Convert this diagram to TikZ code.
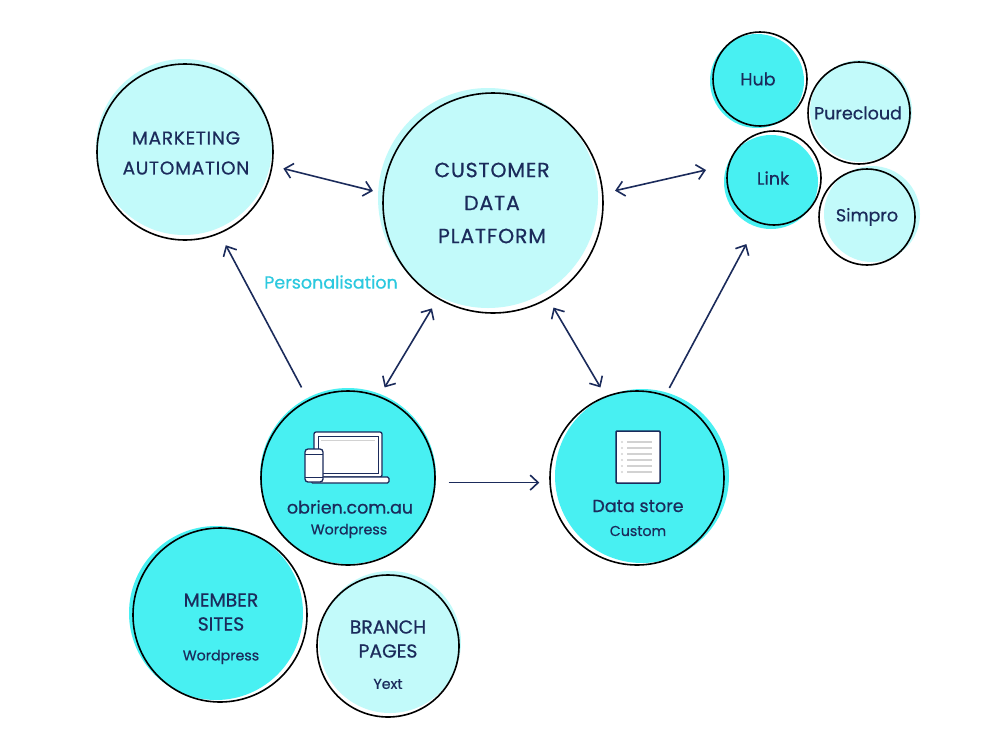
\documentclass[tikz,border=0pt]{standalone}
\usepackage{fontspec}
\setmainfont{Poppins}[FakeBold=0.6]
\newfontfamily\capsfont{Poppins}[LetterSpace=4,FakeBold=0.6]
\usetikzlibrary{arrows.meta,calc}
\definecolor{navy}{HTML}{1B2B5B}
\definecolor{bright}{HTML}{48F0F2}
\definecolor{light}{HTML}{C2FAFA}
\definecolor{pers}{HTML}{2CC9DF}
\begin{document}
\begin{tikzpicture}[x=1pt,y=-1pt,
  ring/.style={circle,draw=black,line width=1.6pt,inner sep=0pt,minimum size=#1},
  conn/.style={draw=navy,line width=1.6pt},
  >={Straight Barb[length=8pt,width=15pt]},
  txt/.style={text=navy,align=center,inner sep=0pt},
  bigcaps/.style={txt,font=\capsfont\fontsize{20.5}{33}\selectfont},
  macaps/.style={txt,font=\capsfont\fontsize{18.5}{30}\selectfont},
  caps/.style={txt,font=\fontsize{18.8}{24}\selectfont},
  main/.style={txt,font=\fontsize{17.5}{20}\selectfont},
  sub/.style={txt,font=\fontsize{14.2}{16}\selectfont},
  icon/.style={draw=navy,line width=1.3pt,fill=white}]
\fill[white] (0,0) rectangle (1000,750);
\useasboundingbox (0,0) rectangle (1000,750);

% fills
\fill[light]  (184,147) circle (88pt);
\fill[light]  (488,198) circle (110pt);
\fill[bright] (348,476) circle (88pt);
\fill[bright] (642,476) circle (87pt);
\fill[bright] (757,81) circle (47pt);
\fill[light]  (861,111) circle (51pt);
\fill[bright] (771,182) circle (47pt);
\fill[light]  (872,214) circle (48pt);
\fill[bright] (216,613) circle (87pt);
\fill[light]  (390,642) circle (71pt);

% rings
\node[ring=176pt] (ma)  at (185,152) {};
\node[ring=220pt] (cdp) at (493,203) {};
\node[ring=174pt] (ob)  at (348,478) {};
\node[ring=174pt] (ds)  at (637,478) {};
\node[ring=94pt]  (hub) at (760,79) {};
\node[ring=102pt] (pc)  at (859,113) {};
\node[ring=94pt]  (lnk) at (774,178) {};
\node[ring=96pt]  (sp)  at (867,217) {};
\node[ring=174pt] (ms)  at (220,615) {};
\node[ring=142pt] (bp)  at (388,646) {};

% texts
\node[macaps]  (matxt)  at (186,153) {MARKETING\\AUTOMATION};
\node[bigcaps] (cdptxt) at (492,203) {CUSTOMER\\DATA\\PLATFORM};
\node[main] (obtxt) at (350,507) {obrien.com.au};
\node[sub]  (obsub) at (349,531) {Wordpress};
\node[main] (dstxt) at (638,506) {Data store};
\node[sub]  (dssub) at (638,531) {Custom};
\node[main] (hubtxt) at (758,79) {Hub};
\node[main] (pctxt)  at (858,113) {Purecloud};
\node[main] (lnktxt) at (773,178) {Link};
\node[main] (sptxt)  at (867,217) {Simpro};
\node[caps] (mstxt) at (221,612) {MEMBER\\SITES};
\node[sub]  (mssub) at (221,657) {Wordpress};
\node[caps] (bptxt) at (388,639) {BRANCH\\PAGES};
\node[sub]  (bpsub) at (388,684) {Yext};
\node[txt,text=pers,font=\fontsize{17.5}{20}\selectfont] (perslbl) at (331,282) {Personalisation};

% laptop + phone icon
\draw[icon,rounded corners=2pt] (314,432) rectangle (382,477);
\draw[navy,line width=0.7pt] (318,436) rectangle (378,473);
\draw[gray!35,line width=1pt] (321,440) -- (375,440);
\draw[icon,rounded corners=1.5pt] (311,477) rectangle (389,483);
\draw[icon,rounded corners=3pt] (305,449) rectangle (323,482);
\draw[navy,line width=1pt] (305,454) -- (323,454) (305,477) -- (323,477);

% document icon
\draw[icon,line width=1.5pt,rounded corners=1pt] (616,431) rectangle (660,483);
\foreach \yy in {442,448,454,460,466,472}{
  \draw[gray!35,line width=2pt] (627,\yy) -- (652,\yy);
  \fill[gray!35] (622,\yy) circle (1.2pt);
}

% connectors
\coordinate (grp) at (706,170);
\draw[conn,<->,shorten <=11pt,shorten >=10pt] (ma.-9) -- (cdp.175);
\draw[conn,<->,shorten <=12pt] (cdp.5) -- (grp);
\draw[conn,->,shorten <=14pt,shorten >=13pt] (ob.117) -- (ma.-67);
\draw[conn,<->,shorten <=10pt,shorten >=11pt] (ob.69) -- (cdp.-120);
\draw[conn,<->,shorten <=10pt,shorten >=10pt] (cdp.-60) -- (ds.111);
\draw[conn,->,shorten <=8pt,shorten >=24pt] (ds.71) -- (lnk.-110);
\draw[conn,->,shorten <=13pt,shorten >=10pt] (ob.-3) -- (ds.-177);
\end{tikzpicture}
\end{document}
